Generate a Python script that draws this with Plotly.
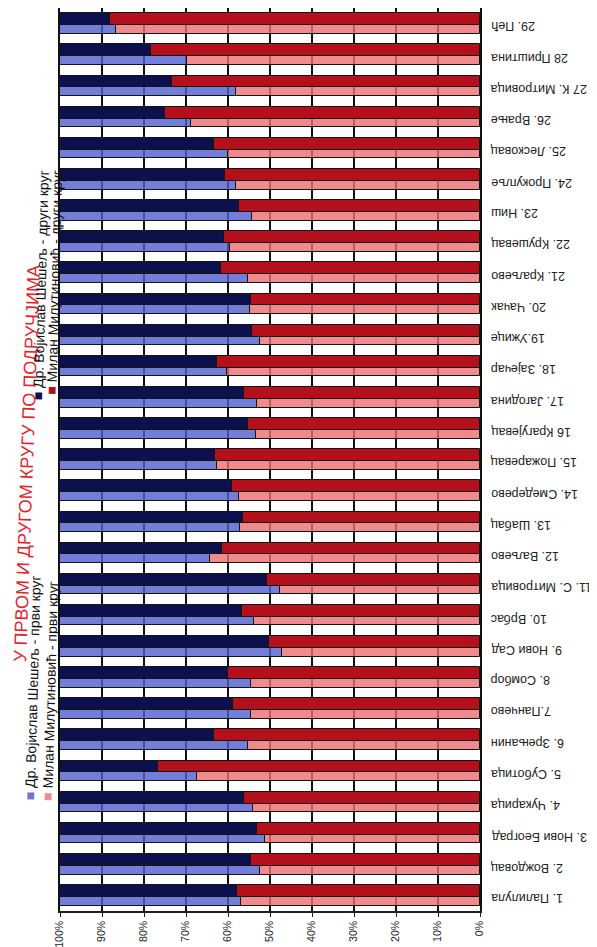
import plotly.graph_objects as go

categories = ["1. Палилула", "2. Вождовац", "3. Нови Београд", "4. Чукарица", "5. Суботица",
              "6. Зрењанин", "7.Панчево", "8. Сомбор", "9. Нови Сад", "10. Врбас",
              "11. С. Митровица", "12. Ваљево", "13. Шабац", "14. Смедерево", "15. Пожаревац",
              "16 Крагујевац", "17. Јагодина", "18. Зајечар", "19.Ужице", "20. Чачак",
              "21. Краљево", "22. Крушевац", "23. Ниш", "24. Прокупље", "25. Лесковац",
              "26. Врање", "27 К. Митровица", "28 Приштина", "29. Пећ"]

seselj_r1 = [43.0, 47.5, 48.7, 46.0, 32.5, 44.8, 45.4, 45.4, 52.8, 46.3,
             52.3, 35.7, 42.9, 42.5, 37.3, 46.6, 46.8, 39.7, 47.6, 45.2,
             44.8, 40.5, 45.7, 42.0, 40.0, 31.3, 42.0, 30.2, 13.3]
seselj_r2 = [42.2, 45.5, 46.8, 43.9, 23.3, 36.7, 41.3, 40.1, 49.8, 43.3,
             49.4, 38.5, 43.5, 40.9, 36.9, 44.7, 43.8, 37.3, 45.8, 45.4,
             38.3, 39.1, 42.5, 39.3, 36.7, 25.0, 26.7, 21.7, 11.9]
milutinovic_r1 = [57.0, 52.5, 51.3, 54.0, 67.5, 55.2, 54.6, 54.6, 47.2, 53.7,
                  47.7, 64.3, 57.1, 57.5, 62.7, 53.4, 53.2, 60.3, 52.4, 54.8,
                  55.2, 59.5, 54.3, 58.0, 60.0, 68.7, 58.0, 69.8, 86.7]
milutinovic_r2 = [57.8, 54.5, 53.2, 56.1, 76.7, 63.3, 58.7, 59.9, 50.2, 56.7,
                  50.6, 61.5, 56.5, 59.1, 63.1, 55.3, 56.2, 62.7, 54.2, 54.6,
                  61.7, 60.9, 57.5, 60.7, 63.3, 75.0, 73.3, 78.3, 88.1]

series_names = ["Др. Војислав Шешељ - први круг", "Др. Војислав Шешељ - други круг",
                "Милан Милутиновић - први круг", "Милан Милутиновић - други круг"]
title_text = "У ПРВОМ И ДРУГОМ КРУГУ ПО ПОДРУЧЈИМА"
tick_values = [0, 10, 20, 30, 40, 50, 60, 70, 80, 90, 100]
tick_labels = ["0%", "10%", "20%", "30%", "40%", "50%", "60%", "70%", "80%", "90%", "100%"]

positions = list(range(1, len(categories) + 1))

C_BLUE_L = "rgba(80,94,206,0.8)"
C_BLUE_D = "#0c104c"
C_RED_L = "rgba(236,110,112,0.8)"
C_RED_D = "#b3101c"
SQ_COLORS = ["#6976d4", C_BLUE_D, "#ee8e8e", C_RED_D]
EDGE = dict(color="#141414", width=1)

fig = go.Figure()
fig.add_trace(go.Bar(y=positions, x=milutinovic_r1, base=0, orientation="h",
                     width=0.28, offset=-0.33, marker=dict(color=C_RED_L, line=EDGE),
                     name=series_names[2], showlegend=False))
fig.add_trace(go.Bar(y=positions, x=seselj_r1, base=milutinovic_r1, orientation="h",
                     width=0.28, offset=-0.33, marker=dict(color=C_BLUE_L, line=EDGE),
                     name=series_names[0], showlegend=False))
fig.add_trace(go.Bar(y=positions, x=milutinovic_r2, base=0, orientation="h",
                     width=0.38, offset=-0.05, marker=dict(color=C_RED_D, line=EDGE),
                     name=series_names[3], showlegend=False))
fig.add_trace(go.Bar(y=positions, x=seselj_r2, base=milutinovic_r2, orientation="h",
                     width=0.38, offset=-0.05, marker=dict(color=C_BLUE_D, line=EDGE),
                     name=series_names[1], showlegend=False))

FONT = "Liberation Sans, Arial, sans-serif"
ann = []
for p, c in zip(positions, categories):
    ann.append(dict(x=1, xref="paper", xanchor="left", xshift=9, y=p - 0.1, yref="y",
                    yanchor="middle", text=c, textangle=180, showarrow=False,
                    font=dict(family=FONT, size=12.5, color="#222")))

def px_y(py):
    return (903 - py) / 903.0

# title, reading bottom to top
ann.append(dict(x=0, xref="paper", xshift=-33, xanchor="center", y=px_y(456), yref="paper",
                yanchor="middle", text=title_text, textangle=-88, showarrow=False,
                font=dict(family=FONT, size=18, color="#e4222c")))

# legend: two rows (columns after rotation), two entries each
sq = '<span style="color:{}">■</span> {}'
legend_pos = [(-27, 795, "bottom"), (-19, 160, "top"), (-10, 795, "bottom"), (-6, 160, "top")]
for i, (xs, py, ya) in enumerate(legend_pos):
    ann.append(dict(x=0, xref="paper", xshift=xs, xanchor="center", y=px_y(py), yref="paper",
                    yanchor=ya, textangle=-88.5, showarrow=False,
                    text=sq.format(SQ_COLORS[i], series_names[i]),
                    font=dict(family=FONT, size=14, color="#111")))

fig.update_layout(
    width=597, height=947,
    margin=dict(l=52, r=125, t=0, b=44),
    paper_bgcolor="white", plot_bgcolor="white",
    barmode="overlay", bargap=0,
    showlegend=False,
    annotations=ann,
    xaxis=dict(range=[100, 0], tickvals=tick_values, ticktext=tick_labels,
               tickangle=-90, ticks="outside", ticklen=4, tickcolor="#222",
               showgrid=True, gridcolor="#111111", gridwidth=2,
               showline=True, linecolor="#222", linewidth=1.5, zeroline=False,
               tickfont=dict(family=FONT, size=10.5, color="#222")),
    yaxis=dict(range=[0.5, 29.5], showticklabels=False, showgrid=False,
               zeroline=False, showline=True, mirror=True, linecolor="#111111",
               linewidth=2, ticks=""),
)

fig.write_html("out.html")
